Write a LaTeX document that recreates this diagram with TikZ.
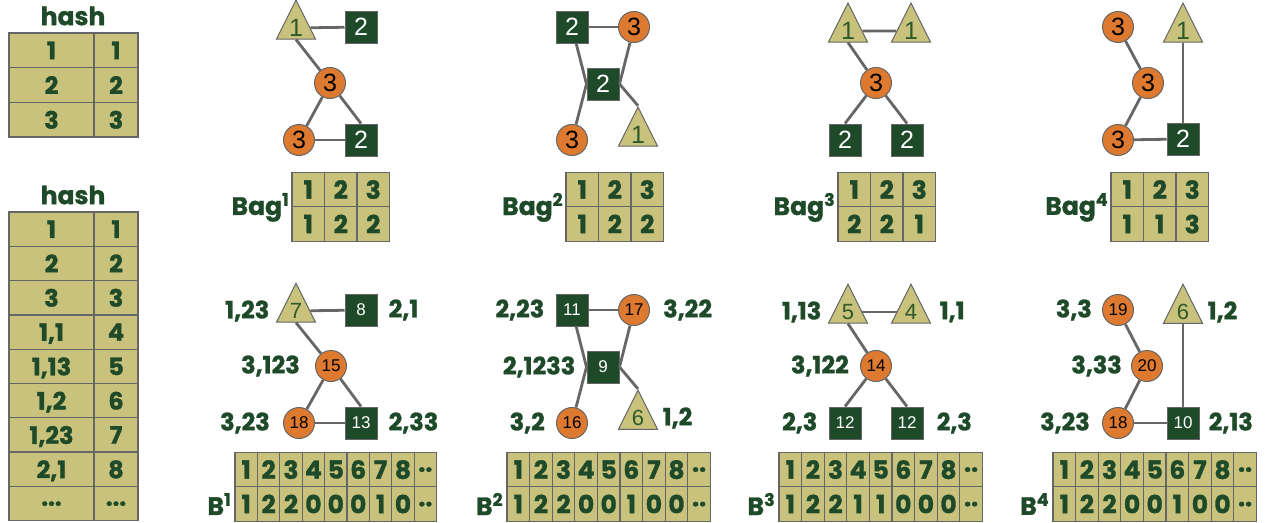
\documentclass[tikz,border=0pt]{standalone}
\usepackage{fontspec}
\setmainfont{Liberation Sans}
\newfontfamily\lblfont{Poppins}[BoldFeatures={FakeBold=1.2}]
\usetikzlibrary{positioning,shapes.geometric}
\definecolor{bagolive}{HTML}{C8C27C}
\definecolor{darkgreen}{HTML}{1F4A2A}
\definecolor{trigreen}{HTML}{2F5A2A}
\definecolor{nodeorange}{HTML}{DE7A30}
\definecolor{gridgray}{HTML}{666666}
\newcommand{\numbig}{\fontsize{25}{25}\selectfont}
\newcommand{\numsmall}{\fontsize{17}{17}\selectfont}
\newcommand{\numtri}{\fontsize{22}{22}\selectfont}
\newcommand{\twodots}{..}
\newcommand{\tdots}{...}
\newcommand{\cellrow}[6]{%
  \foreach \v [count=\i] in {#6}
    \node[cell,#2,minimum width=#5] (#1-\i) at ({#3+(\i-0.5)*#5},#4) {\v};}

\tikzset{
  cell/.style={draw=gridgray,fill=bagolive,line width=1.3pt,inner sep=0pt,text=darkgreen,
    text depth=0pt,font=\lblfont\bfseries\fontsize{25}{25}\selectfont,minimum height=34.5},
  hashcell/.style={cell,font=\lblfont\bfseries\fontsize{24}{24}\selectfont},
  sq/.style={draw=gridgray,fill=darkgreen,line width=1pt,minimum size=32,inner sep=0pt,text=white},
  circ/.style={circle,draw=gridgray,fill=nodeorange,line width=1pt,minimum size=31,inner sep=0pt,text=black},
  tri/.style={isosceles triangle,isosceles triangle stretches,shape border rotate=90,draw=gridgray,
    fill=bagolive,line width=1pt,minimum width=39,minimum height=39,inner sep=0pt,text=trigreen},
  link/.style={draw=gridgray,line width=2.8pt},
  lbl/.style={inner sep=0pt,text=darkgreen,font=\lblfont\bfseries\fontsize{24}{24}\selectfont},
  baglbl/.style={inner sep=0pt,text=darkgreen,font=\lblfont\bfseries\fontsize{25}{25}\selectfont}
}

\begin{document}
\begin{tikzpicture}[x=1pt,y=-1pt]
  \useasboundingbox (0,0) rectangle (1268,522);

  % hash tables
  \node[lbl,font=\lblfont\bfseries\fontsize{25}{25}\selectfont] (hashA) at (73,16) {hash};
  \foreach \l/\r [count=\i] in {1/1,2/2,3/3}{
    \node[hashcell,minimum width=85,minimum height=34.7] (hA\i l) at (51.5,{33+(\i-0.5)*34.7}) {\l};
    \node[hashcell,minimum width=44,minimum height=34.7] (hA\i r) at (116,{33+(\i-0.5)*34.7}) {\r};
  }
  \node[lbl,font=\lblfont\bfseries\fontsize{25}{25}\selectfont] (hashB) at (73,195) {hash};
  \foreach \l/\r [count=\i] in {1/1,2/2,3/3,{1,1}/4,{1,13}/5,{1,2}/6,{1,23}/7,{2,1}/8,\tdots/\tdots}{
    \node[hashcell,minimum width=85,minimum height=34.3] (hB\i l) at (51.5,{212+(\i-0.5)*34.3}) {\l};
    \node[hashcell,minimum width=44,minimum height=34.3] (hB\i r) at (116,{212+(\i-0.5)*34.3}) {\r};
  }

  % graph 1
  \node[tri,font=\numbig] (t1a) at (296,28) {1};
  \node[sq,font=\numbig] (t1b) at (361,27) {2};
  \node[circ,font=\numbig] (t1c) at (330,83) {3};
  \node[circ,font=\numbig] (t1d) at (299,140) {3};
  \node[sq,font=\numbig] (t1e) at (361,140) {2};
  \draw[link] (t1a) -- (t1b);
  \draw[link] (t1a.south) -- (t1c);
  \draw[link] (t1c) -- (t1d);
  \draw[link] (t1c) -- (t1e.north);
  \draw[link] (t1d) -- (t1e);
  \cellrow{bag1r1}{}{292}{189.5}{32.5}{1,2,3}
  \cellrow{bag1r2}{}{292}{224}{32.5}{1,2,2}
  \node[baglbl,left=2pt of bag1r1-1.south west] (bag1) {Bag\textsuperscript{1}};

  \node[tri,font=\numtri] (b1a) at (296,311) {7};
  \node[sq,font=\numsmall] (b1b) at (361,310) {8};
  \node[circ,font=\numsmall] (b1c) at (331,366) {15};
  \node[circ,font=\numsmall] (b1d) at (299,423) {18};
  \node[sq,font=\numsmall] (b1e) at (361,423) {13};
  \draw[link] (b1a) -- (b1b);
  \draw[link] (b1a.south) -- (b1c);
  \draw[link] (b1c) -- (b1d);
  \draw[link] (b1c) -- (b1e.north);
  \draw[link] (b1d) -- (b1e);
  \node[lbl,left=12pt of b1a] (l1a) {1,23};
  \node[lbl,right=11pt of b1b] (l1b) {2,1};
  \node[lbl,left=15pt of b1c] (l1c) {3,123};
  \node[lbl,left=13pt of b1d] (l1d) {3,23};
  \node[lbl,right=11pt of b1e] (l1e) {2,33};
  \cellrow{bt1r1}{}{235}{469.5}{22.4}{1,2,3,4,5,6,7,8,\twodots}
  \cellrow{bt1r2}{}{235}{504}{22.4}{1,2,2,0,0,0,1,0,\twodots}
  \node[baglbl,left=3pt of bt1r2-1] (bb1) {B\textsuperscript{1}};

  % graph 2
  \node[sq,font=\numbig] (t2a) at (572,27) {2};
  \node[circ,font=\numbig] (t2b) at (634,27) {3};
  \node[sq,font=\numbig] (t2c) at (603,84) {2};
  \node[circ,font=\numbig] (t2d) at (572,140) {3};
  \node[tri,font=\numbig] (t2e) at (638,135) {1};
  \draw[link] (t2a) -- (t2b);
  \draw[link] (t2a) -- (t2c.west);
  \draw[link] (t2b) -- (t2c.east);
  \draw[link] (t2c.west) -- (t2d);
  \draw[link] (t2c.east) -- (t2e.north);
  \cellrow{bag2r1}{}{566}{189.5}{32.5}{1,2,3}
  \cellrow{bag2r2}{}{566}{224}{32.5}{1,2,2}
  \node[baglbl,left=2pt of bag2r1-1.south west] (bag2) {Bag\textsuperscript{2}};

  \node[sq,font=\numsmall] (b2a) at (572,310) {11};
  \node[circ,font=\numsmall] (b2b) at (634,310) {17};
  \node[sq,font=\numsmall] (b2c) at (603,367) {9};
  \node[circ,font=\numsmall] (b2d) at (572,423) {16};
  \node[tri,font=\numtri] (b2e) at (638,418) {6};
  \draw[link] (b2a) -- (b2b);
  \draw[link] (b2a) -- (b2c.west);
  \draw[link] (b2b) -- (b2c.east);
  \draw[link] (b2c.west) -- (b2d);
  \draw[link] (b2c.east) -- (b2e.north);
  \node[lbl,left=11pt of b2a] (l2a) {2,23};
  \node[lbl,right=13pt of b2b] (l2b) {3,22};
  \node[lbl,left=11pt of b2c] (l2c) {2,1233};
  \node[lbl,left=11pt of b2d] (l2d) {3,2};
  \node[lbl,right=10pt of b2e] (l2e) {1,2};
  \cellrow{bt2r1}{}{507}{469.5}{22.6}{1,2,3,4,5,6,7,8,\twodots}
  \cellrow{bt2r2}{}{507}{504}{22.6}{1,2,2,0,0,1,0,0,\twodots}
  \node[baglbl,left=3pt of bt2r2-1] (bb2) {B\textsuperscript{2}};

  % graph 3
  \node[tri,font=\numbig] (t3a) at (848,31) {1};
  \node[tri,font=\numbig] (t3b) at (911,31) {1};
  \node[circ,font=\numbig] (t3c) at (876,83) {3};
  \node[sq,font=\numbig] (t3d) at (845,140) {2};
  \node[sq,font=\numbig] (t3e) at (907,140) {2};
  \draw[link] (t3a) -- (t3b);
  \draw[link] (t3a.south) -- (t3c);
  \draw[link] (t3c) -- (t3d.north);
  \draw[link] (t3c) -- (t3e.north);
  \cellrow{bag3r1}{}{838}{189.5}{32.5}{1,2,3}
  \cellrow{bag3r2}{}{838}{224}{32.5}{2,2,1}
  \node[baglbl,left=2pt of bag3r1-1.south west] (bag3) {Bag\textsuperscript{3}};

  \node[tri,font=\numtri] (b3a) at (848,312) {5};
  \node[tri,font=\numtri] (b3b) at (911,312) {4};
  \node[circ,font=\numsmall] (b3c) at (876,366) {14};
  \node[sq,font=\numsmall] (b3d) at (845,423) {12};
  \node[sq,font=\numsmall] (b3e) at (907,423) {12};
  \draw[link] (b3a) -- (b3b);
  \draw[link] (b3a.south) -- (b3c);
  \draw[link] (b3c) -- (b3d.north);
  \draw[link] (b3c) -- (b3e.north);
  \node[lbl,left=12pt of b3a] (l3a) {1,13};
  \node[lbl,right=14pt of b3b] (l3b) {1,1};
  \node[lbl,left=11pt of b3c] (l3c) {3,122};
  \node[lbl,left=11pt of b3d] (l3d) {2,3};
  \node[lbl,right=13pt of b3e] (l3e) {2,3};
  \cellrow{bt3r1}{}{779}{469.5}{22.6}{1,2,3,4,5,6,7,8,\twodots}
  \cellrow{bt3r2}{}{779}{504}{22.6}{1,2,2,1,1,0,0,0,\twodots}
  \node[baglbl,left=3pt of bt3r2-1] (bb3) {B\textsuperscript{3}};

  % graph 4
  \node[circ,font=\numbig] (t4a) at (1118,27) {3};
  \node[circ,font=\numbig] (t4b) at (1148,83) {3};
  \node[circ,font=\numbig] (t4c) at (1118,140) {3};
  \node[sq,font=\numbig] (t4d) at (1183,139) {2};
  \node[tri,font=\numbig] (t4e) at (1183,31) {1};
  \draw[link] (t4a) -- (t4b);
  \draw[link] (t4b) -- (t4c);
  \draw[link] (t4c) -- (t4d);
  \draw[link] (t4d) -- (t4e.south);
  \cellrow{bag4r1}{}{1111}{189.5}{32.5}{1,2,3}
  \cellrow{bag4r2}{}{1111}{224}{32.5}{1,1,3}
  \node[baglbl,left=2pt of bag4r1-1.south west] (bag4) {Bag\textsuperscript{4}};

  \node[circ,font=\numsmall] (b4a) at (1118,310) {19};
  \node[circ,font=\numsmall] (b4b) at (1147,366) {20};
  \node[circ,font=\numsmall] (b4c) at (1118,423) {18};
  \node[sq,font=\numsmall] (b4d) at (1183,423) {10};
  \node[tri,font=\numtri] (b4e) at (1183,312) {6};
  \draw[link] (b4a) -- (b4b);
  \draw[link] (b4b) -- (b4c);
  \draw[link] (b4c) -- (b4d);
  \draw[link] (b4d) -- (b4e.south);
  \node[lbl,left=10pt of b4a] (l4a) {3,3};
  \node[lbl,right=10pt of b4e] (l4e) {1,2};
  \node[lbl,left=9pt of b4b] (l4b) {3,33};
  \node[lbl,left=12pt of b4c] (l4c) {3,23};
  \node[lbl,right=9pt of b4d] (l4d) {2,13};
  \cellrow{bt4r1}{}{1053}{469.5}{22.6}{1,2,3,4,5,6,7,8,\twodots}
  \cellrow{bt4r2}{}{1053}{504}{22.6}{1,2,2,0,0,1,0,0,\twodots}
  \node[baglbl,left=3pt of bt4r2-1] (bb4) {B\textsuperscript{4}};
\end{tikzpicture}
\end{document}
